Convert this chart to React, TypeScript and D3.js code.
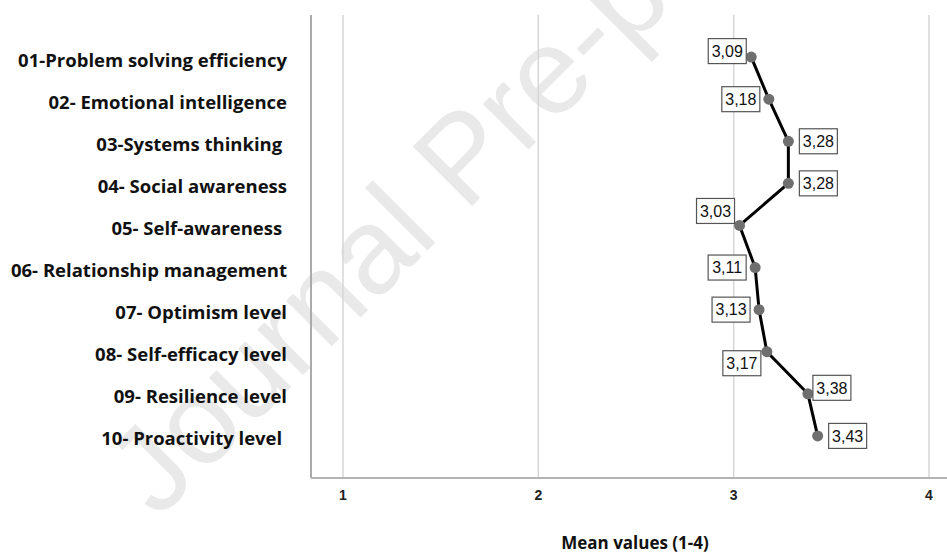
import React from 'react';
import * as d3 from 'd3';

// chart values
const categories = [
  '01-Problem solving efficiency',
  '02- Emotional intelligence',
  '03-Systems thinking ',
  '04- Social awareness',
  '05- Self-awareness ',
  '06- Relationship management',
  '07- Optimism level',
  '08- Self-efficacy level',
  '09- Resilience level',
  '10- Proactivity level ',
];
const meanValues = [3.09, 3.18, 3.28, 3.28, 3.03, 3.11, 3.13, 3.17, 3.38, 3.43];
const xTicks = [1, 2, 3, 4];
const labelSide = ['leftUp', 'left', 'right', 'right', 'leftAbove', 'left', 'left', 'leftBelow', 'rightUp', 'right'];

const width = 947;
const height = 553;
const plot = { left: 311, right: 947, top: 15, bottom: 478 };

const boxW = 38;
const boxH = 25;

function boxPos(side: string, px: number, py: number) {
  switch (side) {
    case 'leftUp':
      return { x: px - 5 - boxW, y: py - 6 - boxH / 2 };
    case 'left':
      return { x: px - 9 - boxW, y: py - boxH / 2 };
    case 'leftAbove':
      return { x: px - 5 - boxW, y: py - 2 - boxH };
    case 'leftBelow':
      return { x: px - 6 - boxW, y: py - 1 };
    case 'rightUp':
      return { x: px + 5, y: py - 6 - boxH / 2 };
    default:
      return { x: px + 11, y: py - boxH / 2 };
  }
}

const App: React.FC = () => {
  const x = d3.scaleLinear().domain([1, 4]).range([343, 929]);
  const y = d3
    .scalePoint<string>()
    .domain(categories)
    .range([plot.top, plot.bottom])
    .padding(1);

  const pts = meanValues.map((v, i) => ({ v, cat: categories[i], px: x(v), py: y(categories[i]) || 0 }));
  const line = d3
    .line<{ px: number; py: number }>()
    .x((d) => d.px)
    .y((d) => d.py);

  const fmt = (v: number) => d3.format('.2f')(v).replace('.', ',');

  return (
    <svg
      width={width}
      height={height}
      style={{ position: 'absolute', left: 0, top: 0, background: '#fff', display: 'block' }}
    >
      {/* watermark */}
      <text
        transform="translate(158,520) rotate(-45)"
        fontFamily="Arial, 'Liberation Sans', sans-serif"
        fontSize={122}
        fill="#e9e9e9"
      >
        Journal Pre-proof
      </text>

      {/* grid */}
      {xTicks.map((t) => (
        <line key={t} x1={x(t)} x2={x(t)} y1={plot.top} y2={plot.bottom} stroke="#d6d6d6" strokeWidth={1.5} />
      ))}

      {/* axes */}
      <line x1={plot.left} x2={plot.left} y1={plot.top} y2={plot.bottom} stroke="#ababab" strokeWidth={2} />
      <line x1={plot.left} x2={plot.right} y1={plot.bottom} y2={plot.bottom} stroke="#b4b4b4" strokeWidth={2} />

      {/* category labels */}
      {categories.map((c) => (
        <text
          key={c}
          x={287}
          y={(y(c) || 0) + 3}
          dy="0.35em"
          textAnchor="end"
          fontFamily="'Open Sans', sans-serif"
          fontWeight={700}
          fontSize={18.5}
          fill="#111"
          style={{ whiteSpace: 'pre' }}
        >
          {c}
        </text>
      ))}

      {/* tick labels */}
      {xTicks.map((t) => (
        <text
          key={t}
          x={x(t)}
          y={500}
          textAnchor="middle"
          fontFamily="Arial, 'Liberation Sans', sans-serif"
          fontWeight={700}
          fontSize={14}
          fill="#222"
        >
          {t}
        </text>
      ))}

      <text
        x={635}
        y={549}
        textAnchor="middle"
        fontFamily="'Open Sans', sans-serif"
        fontWeight={700}
        fontSize={17}
        fill="#111"
      >
        Mean values (1-4)
      </text>

      {/* series */}
      <path d={line(pts) || ''} fill="none" stroke="#000" strokeWidth={3} strokeLinejoin="round" />
      {pts.map((d) => (
        <circle key={d.cat} cx={d.px} cy={d.py} r={5.5} fill="#6f6f6f" />
      ))}

      {/* value labels */}
      {pts.map((d, i) => {
        const b = boxPos(labelSide[i], d.px, d.py);
        return (
          <g key={'lab' + i}>
            <rect x={b.x} y={b.y} width={boxW} height={boxH} fill="#fff" stroke="#555" strokeWidth={1.2} />
            <text
              x={b.x + boxW / 2}
              y={b.y + boxH / 2}
              dy="0.36em"
              textAnchor="middle"
              fontFamily="Arial, 'Liberation Sans', sans-serif"
              fontSize={16}
              fill="#111"
            >
              {fmt(d.v)}
            </text>
          </g>
        );
      })}
    </svg>
  );
};

export default App;
